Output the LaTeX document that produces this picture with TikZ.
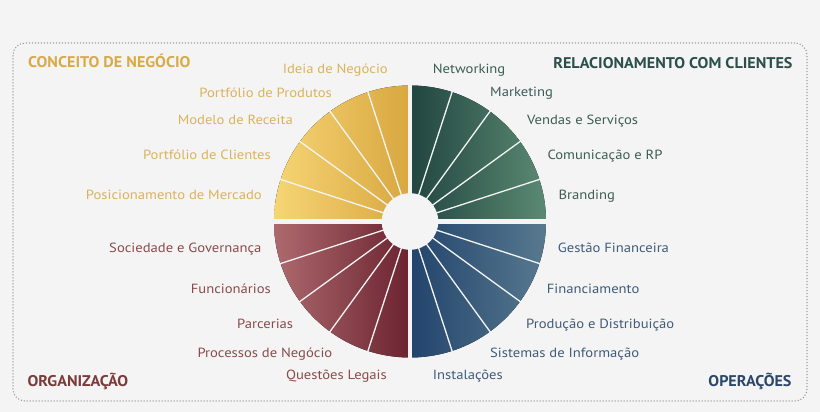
\documentclass[tikz,border=0pt]{standalone}
\usepackage{fontspec}
\setmainfont{PT Sans}
\newfontfamily\labfont{PT Sans}[FakeStretch=1.1]
\newfontfamily\headfont{PT Sans}[FakeStretch=1.04]
\usetikzlibrary{calc}
\definecolor{bg}{HTML}{F4F4F4}
\definecolor{frame}{HTML}{999999}
\definecolor{yL}{HTML}{F6D574}\definecolor{yR}{HTML}{D8A740}
\definecolor{gL}{HTML}{214540}\definecolor{gR}{HTML}{5B8A73}
\definecolor{rL}{HTML}{AD6A6E}\definecolor{rR}{HTML}{6B2330}
\definecolor{bL}{HTML}{22446C}\definecolor{bR}{HTML}{58798F}
\definecolor{yT}{HTML}{DBB35C}\definecolor{yH}{HTML}{D8AB48}
\definecolor{gT}{HTML}{3B5E54}\definecolor{gH}{HTML}{2B5048}
\definecolor{rT}{HTML}{8C4A4C}\definecolor{rH}{HTML}{7B3B3B}
\definecolor{bT}{HTML}{3F5C7A}\definecolor{bH}{HTML}{2D4768}
\tikzset{
  lab/.style={inner sep=0pt, font=\labfont\fontsize{13.3}{14}\selectfont},
  labL/.style={lab, anchor=base east},
  labR/.style={lab, anchor=base west},
  head/.style={inner sep=0pt, font=\headfont\fontsize{15.5}{16}\selectfont\bfseries},
  sep/.style={draw=bg, line width=1.3pt},
  gap/.style={draw=bg, line width=4.5pt},
}
\begin{document}
\begin{tikzpicture}[x=1pt,y=1pt]
\fill[bg] (0,0) rectangle (820,412);
\useasboundingbox (0,0) rectangle (820,412);
\draw[frame, line width=1.5pt, line cap=round, dash pattern=on 0pt off 3pt, rounded corners=12pt] (13,11) rectangle (807,369);
\coordinate (C) at (410,190.5);
% quadrants
\fill[left color=yL, right color=yR] (C) -- ++(90:136) arc[start angle=90, end angle=180, radius=136] -- cycle;
\fill[left color=gL, right color=gR] (C) -- ++(0:136) arc[start angle=0, end angle=90, radius=136] -- cycle;
\fill[left color=rL, right color=rR] (C) -- ++(180:136) arc[start angle=180, end angle=270, radius=136] -- cycle;
\fill[left color=bL, right color=bR] (C) -- ++(270:136) arc[start angle=270, end angle=360, radius=136] -- cycle;
\foreach \a in {18,36,54,72,108,126,144,162,198,216,234,252,288,306,324,342}
  \draw[sep] ($(C)+(\a:20)$) -- ($(C)+(\a:138)$);
\draw[gap] ($(C)+(0:140)$) -- ($(C)+(180:140)$);
\draw[gap] ($(C)+(90:140)$) -- ($(C)+(270:140)$);
\fill[bg] (C) circle (28.3);
% headings
\node[head, yH, anchor=base west] (h1) at (28,344.7) {CONCEITO DE NEGÓCIO};
\node[head, gH, anchor=base east] (h2) at (792.7,343.7) {RELACIONAMENTO COM CLIENTES};
\node[head, rH, anchor=base west] (h3) at (27.3,25.3) {ORGANIZAÇÃO};
\node[head, bH, anchor=base east] (h4) at (791.7,25.3) {OPERAÇÕES};
% top-left
\node[labL, yT] (t1) at (388,338.7) {Ideia de Negócio};
\node[labL, yT] (t2) at (332,314.3) {Portfólio de Produtos};
\node[labL, yT] (t3) at (293,287) {Modelo de Receita};
\node[labL, yT] (t4) at (271,252.7) {Portfólio de Clientes};
\node[labL, yT] (t5) at (262,212.7) {Posicionamento de Mercado};
% top-right
\node[labR, gT] (g1) at (432.7,338.7) {Networking};
\node[labR, gT] (g2) at (490,315.3) {Marketing};
\node[labR, gT] (g3) at (527,287) {Vendas e Serviços};
\node[labR, gT] (g4) at (547.3,252.7) {Comunicação e RP};
\node[labR, gT] (g5) at (558.3,212.7) {Branding};
% bottom-left
\node[labL, rT] (r1) at (261.7,159.3) {Sociedade e Governança};
\node[labL, rT] (r2) at (271,118) {Funcionários};
\node[labL, rT] (r3) at (293.3,83) {Parcerias};
\node[labL, rT] (r4) at (332.5,54) {Processos de Negócio};
\node[labL, rT] (r5) at (387,32) {Questões Legais};
% bottom-right
\node[labR, bT] (b1) at (557.7,159.3) {Gestão Financeira};
\node[labR, bT] (b2) at (546.7,118) {Financiamento};
\node[labR, bT] (b3) at (526,83) {Produção e Distribuição};
\node[labR, bT] (b4) at (490,54) {Sistemas de Informação};
\node[labR, bT] (b5) at (432.7,32) {Instalações};
\end{tikzpicture}
\end{document}
